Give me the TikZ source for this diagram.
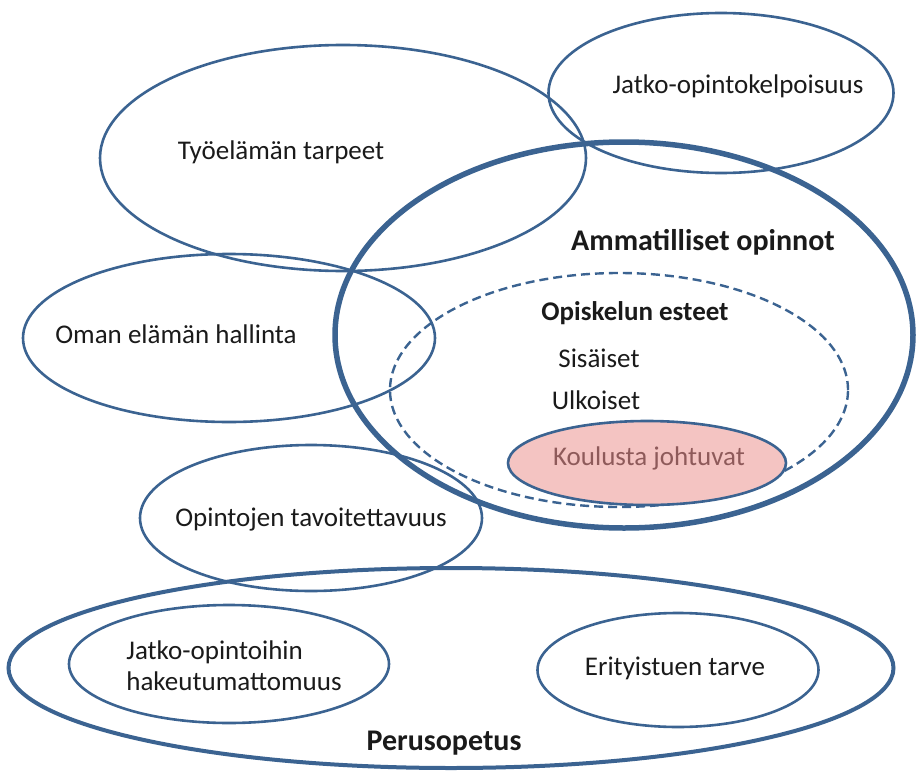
\documentclass[tikz,border=0pt]{standalone}
\usepackage{fontspec}
\setmainfont{Carlito}
\usetikzlibrary{shapes.geometric}
\definecolor{edge}{HTML}{3B6391}
\definecolor{ink}{HTML}{1A1A1A}
\definecolor{pinkfill}{HTML}{F4C4C2}
\definecolor{pinkink}{HTML}{8E5A5A}
\tikzset{
  oval/.style={ellipse, draw=edge, line width=2.6pt, inner sep=0pt},
  bigoval/.style={oval, line width=5.5pt},
  baseoval/.style={oval, line width=4pt},
  dashoval/.style={oval, line width=2.4pt, dash pattern=on 9pt off 5pt},
  lbl/.style={text=ink, font=\fontsize{27}{31}\selectfont, inner sep=0pt},
  blbl/.style={lbl, font=\fontsize{27}{31}\selectfont\bfseries},
  titlelbl/.style={lbl, font=\fontsize{30}{34}\selectfont\bfseries},
}
\begin{document}
\begin{tikzpicture}[x=1pt,y=-1pt]
\useasboundingbox (0,0) rectangle (916,771);
% ellipses
\node[oval, minimum width=486pt, minimum height=226pt] (tyo) at (343,158) {};
\node[oval, minimum width=345pt, minimum height=160pt] (jatko) at (721,93) {};
\node[oval, minimum width=412pt, minimum height=168pt] (oman) at (229,338) {};
\node[oval, minimum width=342pt, minimum height=146pt] (tavo) at (311,518) {};
\node[bigoval, minimum width=578pt, minimum height=386pt] (amm) at (624,335) {};
\node[dashoval, minimum width=458pt, minimum height=234pt] (este) at (619,390) {};
\node[oval, fill=pinkfill, minimum width=278pt, minimum height=84pt] (koulu) at (647,463) {};
\node[baseoval, minimum width=885pt, minimum height=200pt] (perus) at (451,668) {};
\node[oval, minimum width=320pt, minimum height=118pt] (hake) at (229,664) {};
\node[oval, minimum width=281pt, minimum height=114pt] (erit) at (678,670) {};
% labels
\node[lbl] (tyoT) at (281,152) {Työelämän tarpeet};
\node[lbl] (jatkoT) at (738,86) {Jatko-opintokelpoisuus};
\node[lbl] (omanT) at (176,334) {Oman elämän hallinta};
\node[lbl] (tavoT) at (311,520) {Opintojen tavoitettavuus};
\node[titlelbl] (ammT) at (703,242) {Ammatilliset opinnot};
\node[blbl] (esteT) at (635,313) {Opiskelun esteet};
\node[lbl] (sisT) at (599,358) {Sisäiset};
\node[lbl] (ulkT) at (596,400) {Ulkoiset};
\node[lbl, text=pinkink] (kouluT) at (649,458) {Koulusta johtuvat};
\node[lbl, align=left] (hakeT) at (234,666) {Jatko-opintoihin\\hakeutumattomuus};
\node[lbl] (eritT) at (675,668) {Erityistuen tarve};
\node[titlelbl] (perusT) at (444,743) {Perusopetus};
\end{tikzpicture}
\end{document}
